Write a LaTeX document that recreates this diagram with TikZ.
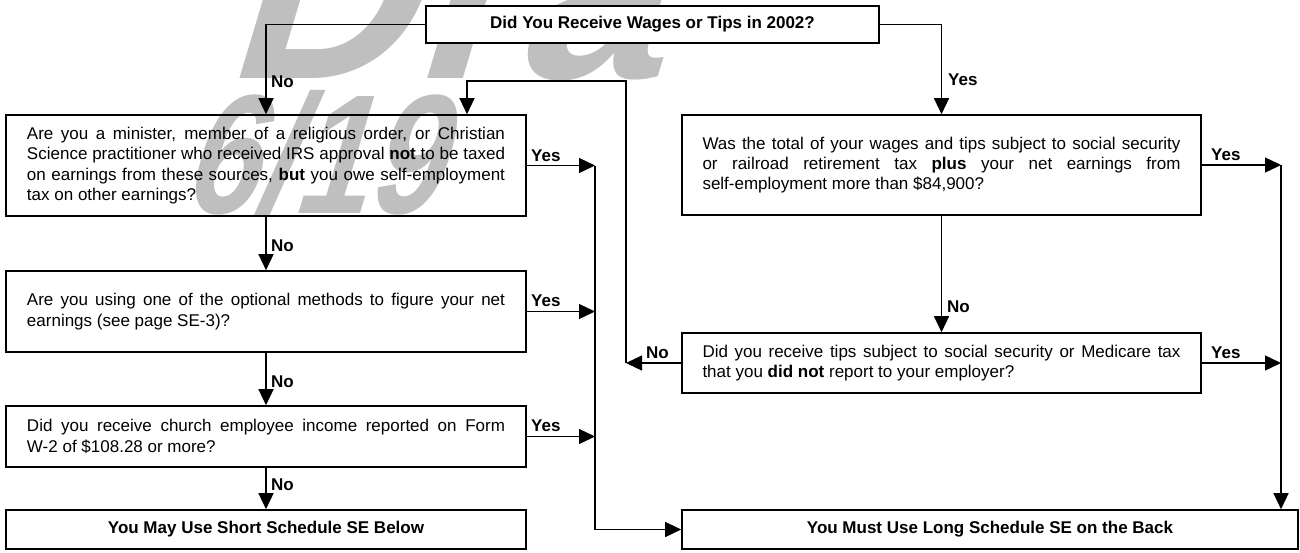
\documentclass[tikz,border=0pt]{standalone}
\usepackage{fontspec}
\setmainfont{Liberation Sans}
\usetikzlibrary{arrows.meta}
\newcommand{\jl}[1]{\makebox[478pt][s]{#1}}
\newcommand{\bx}[1]{\parbox{478pt}{\fontsize{17}{20.3}\selectfont\noindent #1}}
\begin{document}
\begin{tikzpicture}[x=1pt,y=-1pt,
  box/.style={draw, line width=1.6pt, inner sep=0pt, align=center},
  conn/.style={line width=1.3pt, -{Triangle[length=16pt,width=15pt]}},
  lab/.style={font=\fontsize{17}{20}\selectfont\bfseries, inner sep=0pt, anchor=west},
  btitle/.style={font=\fontsize{17}{20}\selectfont\bfseries},
  wm/.style={text=black!25, inner sep=0pt, anchor=base west, transform shape}]
\fill[white] (0,0) rectangle (1300,552);
\begin{scope}
\clip (0,0) rectangle (672,552);
% watermark
\begin{scope}[shift={(222,78)},xslant=0.3]
  \node[wm, font=\fontsize{260}{260}\selectfont\bfseries] (wm1) at (0,0) {Draft};
\end{scope}
\begin{scope}[shift={(180,213)},xslant=0.3,xscale=0.78]
  \node[wm, font=\fontsize{170}{170}\selectfont\bfseries] (wm2) at (0,0) {6/19};
\end{scope}
\end{scope}
\useasboundingbox (0,0) rectangle (1300,552);
% boxes
\node[box, btitle, fill=white, minimum width=453pt, minimum height=37pt] (top) at (652.5,24.5) {Did You Receive Wages or Tips in 2002?};
\node[box, minimum width=520pt, minimum height=101pt] (min) at (266,165.5) {\bx{\jl{Are you a minister, member of a religious order, or Christian}\\\jl{Science practitioner who received IRS approval \textbf{not} to be taxed}\\\jl{on earnings from these sources, \textbf{but} you owe self-employment}\\tax on other earnings?}};
\node[box, minimum width=520pt, minimum height=81pt] (opt) at (266,311.5) {\bx{\jl{Are you using one of the optional methods to figure your net}\\earnings (see page SE-3)?}};
\node[box, minimum width=520pt, minimum height=61pt] (chu) at (266,436.5) {\bx{\jl{Did you receive church employee income reported on Form}\\W-2 of \$108.28 or more?}};
\node[box, btitle, minimum width=520pt, minimum height=39pt] (short) at (266,529.5) {You May Use Short Schedule SE Below};
\node[box, minimum width=519pt, minimum height=100pt] (wag) at (941.5,165) {\bx{\jl{Was the total of your wages and tips subject to social security}\\\jl{or railroad retirement tax \textbf{plus} your net earnings from}\\self-employment more than \$84,900?}};
\node[box, minimum width=519pt, minimum height=60pt] (tip) at (941.5,363) {\bx{\jl{Did you receive tips subject to social security or Medicare tax}\\that you \textbf{did not} report to your employer?}};
\node[box, btitle, minimum width=616pt, minimum height=39pt] (long) at (990,529.5) {You Must Use Long Schedule SE on the Back};
% junctions
\coordinate (jA) at (595,165.5);
\coordinate (jB) at (1281,165);
\coordinate (jC) at (626,363);
\coordinate (lt) at (467,81);
% connectors
\draw[conn] (top.west) -| (min.north);
\draw[conn] (top.east) -| (wag.north);
\draw[conn] (min.south) -- (opt.north);
\draw[conn] (opt.south) -- (chu.north);
\draw[conn] (chu.south) -- (short.north);
\draw[conn] (min.east) -- (jA);
\draw[conn] (opt.east) -- (opt.east -| jA);
\draw[conn] (chu.east) -- (chu.east -| jA);
\draw[conn] (jA) |- (long.west);
\draw[conn] (wag.east) -- (jB);
\draw[conn] (tip.east) -- (tip.east -| jB);
\draw[conn] (jB) -- (jB |- long.north);
\draw[conn] (wag.south) -- (tip.north);
\draw[conn] (tip.west) -- (jC);
\draw[conn] (jC) |- (lt) -- (lt |- min.north);
% labels
\node[lab] (l1) at (271,82) {No};
\node[lab] (l2) at (948,80) {Yes};
\node[lab] (l3) at (531,156) {Yes};
\node[lab] (l4) at (271,246) {No};
\node[lab] (l5) at (531,301) {Yes};
\node[lab] (l6) at (271,382) {No};
\node[lab] (l7) at (531,426) {Yes};
\node[lab] (l8) at (271,485) {No};
\node[lab] (l9) at (1211,155) {Yes};
\node[lab] (l10) at (947,307) {No};
\node[lab] (l11) at (1211,353) {Yes};
\node[lab] (l12) at (646,353) {No};
\end{tikzpicture}
\end{document}
